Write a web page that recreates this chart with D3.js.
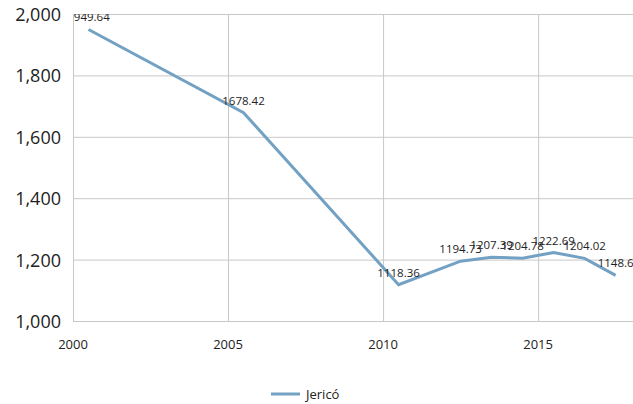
<!DOCTYPE html>
<html lang="es">
<head>
<meta charset="UTF-8">
<title>Jericó</title>
<script src="https://cdn.jsdelivr.net/npm/d3@7"></script>
<style>
  body { margin: 0; background: #fff; }
  text { font-family: "Open Sans", "Noto Sans", sans-serif; fill: #222; }
  .grid line { stroke: #c8c8c8; stroke-width: 1; }
  .grid path { display: none; }
</style>
</head>
<body>
<div id="chart"></div>
<script>
var years = [2000, 2005, 2010, 2012, 2013, 2014, 2015, 2016, 2017];
var values = [1949.64, 1678.42, 1118.36, 1194.73, 1207.39, 1204.78, 1222.69, 1204.02, 1148.6];
var xTicks = [2000, 2005, 2010, 2015];
var yTicks = [1000, 1200, 1400, 1600, 1800, 2000];
var seriesName = 'Jericó';

var w = 633, h = 404;
// plot area edges (note: "top" is a reserved window prop, so use pTop etc)
var pLeft = 73, pRight = 633, pTop = 14, pBottom = 321;

var svg = d3.select('#chart').append('svg')
  .attr('width', w)
  .attr('height', h);

var xScale = d3.scaleLinear().domain([2000, 2018.06]).range([pLeft, pRight]);
var yScale = d3.scaleLinear().domain([1000, 2000]).range([pBottom, pTop]);

// grid
svg.append('g').attr('class', 'grid')
  .attr('transform', 'translate(0,' + pBottom + ')')
  .call(d3.axisBottom(xScale).tickValues(xTicks).tickSize(-(pBottom - pTop)).tickFormat(''));
svg.append('g').attr('class', 'grid')
  .attr('transform', 'translate(' + pLeft + ',0)')
  .call(d3.axisLeft(yScale).tickValues(yTicks).tickSize(-(pRight - pLeft)).tickFormat(''));

// axis labels
var fmt = d3.format(',');
svg.append('g').selectAll('text').data(yTicks).enter().append('text')
  .attr('x', 61)
  .attr('y', d => yScale(d) + 7)
  .attr('text-anchor', 'end')
  .attr('font-size', '18px')
  .text(d => fmt(d));
svg.append('g').selectAll('text').data(xTicks).enter().append('text')
  .attr('x', d => xScale(d))
  .attr('y', 349)
  .attr('text-anchor', 'middle')
  .attr('font-size', '13px')
  .text(d => d);

// clip for line & labels
svg.append('clipPath').attr('id', 'plot')
  .append('rect').attr('x', pLeft).attr('y', pTop)
  .attr('width', pRight - pLeft).attr('height', pBottom - pTop);

var data = years.map((y, i) => ({ year: y, value: values[i] }));
// points sit at mid-year
var px = d => xScale(d.year + 0.5);

var plot = svg.append('g').attr('clip-path', 'url(#plot)');

plot.append('path')
  .datum(data)
  .attr('fill', 'none')
  .attr('stroke', '#72a1c3')
  .attr('stroke-width', 3)
  .attr('d', d3.line().x(px).y(d => yScale(d.value)));

plot.selectAll('text.lbl').data(data).enter().append('text')
  .attr('class', 'lbl')
  .attr('x', px)
  .attr('y', d => yScale(d.value) - 8)
  .attr('text-anchor', 'middle')
  .attr('font-size', '11.5px')
  .text(d => d.value);

// legend
var lg = svg.append('g');
lg.append('line')
  .attr('x1', 271).attr('x2', 300)
  .attr('y1', 394).attr('y2', 394)
  .attr('stroke', '#72a1c3').attr('stroke-width', 3);
lg.append('text')
  .attr('x', 306).attr('y', 399)
  .attr('font-size', '13px')
  .text(seriesName);
</script>
</body>
</html>
